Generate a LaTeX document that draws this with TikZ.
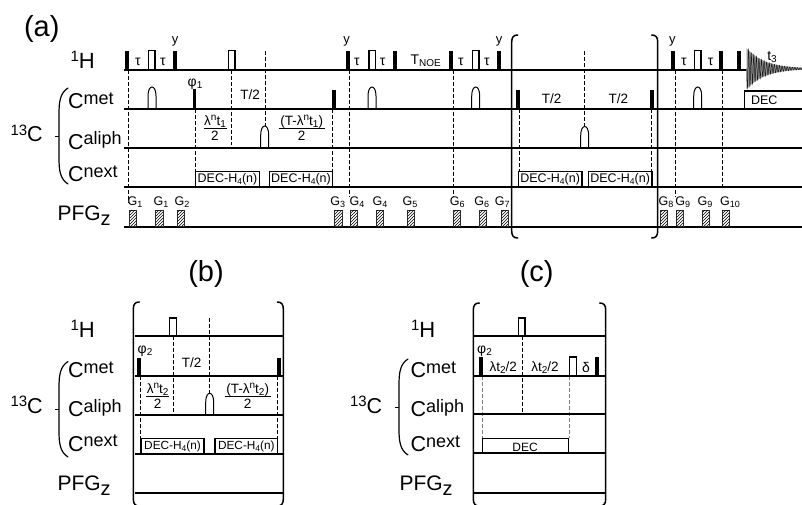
\documentclass[tikz,border=0pt]{standalone}
\usepackage{fontspec}
\setmainfont{Liberation Sans}
\usetikzlibrary{patterns}
\newcount\labn
\newcommand{\fz}[1]{\fontsize{#1}{#1}\selectfont}
\newcommand{\upx}[3]{\raisebox{#1pt}{\fz{#2}#3}}
\newcommand{\lab}[3][base]{\global\advance\labn by 1\node[txt,anchor=#1] (lab\the\labn) at (#2) {#3};}
\newcommand{\bp}[4]{\fill[black] ({#1-.2},#3) rectangle ({#2+.2},#4);}
\newcommand{\opn}[4]{\draw[boxl] (#1,#4) -- (#1,#3) -- (#2,#3) -- (#2,#4);}
\newcommand{\softp}[3]{\draw[softl] ({#1-4},#2) -- ({#1-4},{#3+9}) .. controls ({#1-4},{#3+3}) and ({#1-2},#3) .. (#1,#3) .. controls ({#1+2},#3) and ({#1+4},{#3+3}) .. ({#1+4},{#3+9}) -- ({#1+4},#2);}
\newcommand{\grd}[2]{\draw[gradl] (#1,210) rectangle (#2,226.5);\fill[pattern=north east lines,pattern color=black] (#1,210) rectangle (#2,226.5);}
\newcommand{\glb}[2]{\lab{#1,205}{\fz{12.5}G\upx{-2.5}{9}{#2}}}
\newcommand{\dbox}[5]{\draw[boxl] (#1,#4) -- (#1,#3) -- (#2,#3) -- (#2,#4);\lab[base]{{(#1+#2)/2},{#4-4.5}}{\fz{#5}DEC-H\upx{-2}{8.5}{4}(n)}}
\newcommand{\frc}[5]{\lab{#1,#2}{\fz{13.5}#4}\draw[line width=.9pt] ({#1-#3},{#2+3}) -- ({#1+#3},{#2+3});\lab{#1,{#2+15.5}}{\fz{13.5}#5}}
\newcommand{\lbrk}[3]{\draw[brk] ({#1+6},#2) .. controls ({#1+2},#2) and (#1,{#2+2}) .. (#1,{#2+7}) -- (#1,{#3-7}) .. controls (#1,{#3-2}) and ({#1+2},#3) .. ({#1+6},#3);}
\newcommand{\rbrk}[3]{\draw[brk] ({#1-6},#2) .. controls ({#1-2},#2) and (#1,{#2+2}) .. (#1,{#2+7}) -- (#1,{#3-7}) .. controls (#1,{#3-2}) and ({#1-2},#3) .. ({#1-6},#3);}
\newcommand{\cbrace}[3]{\draw[brk,line width=1.2pt] (#1,#2) .. controls ({#1-8},{#2+5}) and ({#1-9},{#2+14}) .. ({#1-9},{#2+26}) -- ({#1-9},{#3-26}) .. controls ({#1-9},{#3-14}) and ({#1-8},{#3-5}) .. (#1,#3);\draw[line width=1pt] ({#1-13},{(#2+#3)/2}) -- ({#1-9},{(#2+#3)/2});}
\tikzset{
 x=1pt,y=-1pt,
 txt/.style={inner sep=0pt,outer sep=0pt,text=black},
 base line/.style={line width=1.9pt,black},
 boxl/.style={line width=1.1pt,black},
 softl/.style={line width=1pt,black},
 gradl/.style={line width=.6pt,black!80,fill=white},
 dsh/.style={line width=.8pt,dash pattern=on 3.5pt off 2.5pt,black},
 dshg/.style={line width=.8pt,dash pattern=on 3.5pt off 2.5pt,black!50},
 brk/.style={line width=1.5pt,black,line cap=round},
}
\begin{document}
\begin{tikzpicture}
\useasboundingbox (0,0) rectangle (802,504);
% ---- panel (a)
\lab[base west]{24,36}{\fz{29}(a)}
\lab[base west]{70.5,68}{\upx{6.5}{15}{1}\fz{22}H}
\lab[base west]{68,108.5}{\fz{21.5}C\upx{4.5}{18}{met}}
\lab[base west]{68,149}{\fz{21.5}C\upx{4.5}{18}{aliph}}
\lab[base west]{68,181.5}{\fz{21.5}C\upx{4.5}{18}{next}}
\lab[base west]{57.5,220}{\fz{21}PFG\upx{-5}{20}{z}}
\lab[base west]{10.5,141.5}{\upx{6.5}{15}{13}\fz{21.5}C}
\cbrace{68}{88}{184}
% dashed
\draw[dsh] (128,70) -- (128,203);
\draw[dsh] (195.7,109) -- (195.7,172);
\draw[dsh] (231.3,70) -- (231.3,145);
\draw[dsh] (265,51) -- (265,126);
\draw[dsh] (332.3,109) -- (332.3,172);
\draw[dsh] (349.3,70) -- (349.3,197);
\draw[dsh] (453.3,70) -- (453.3,197);
\draw[dsh] (519.3,109) -- (519.3,172);
\draw[dsh] (584.5,51) -- (584.5,126);
\draw[dsh] (651.3,109) -- (651.3,172);
\draw[dsh] (675,70) -- (675,197);
\draw[dsh] (722.7,70) -- (722.7,187);
% baselines
\draw[base line] (124,70) -- (745.5,70);
\draw[base line] (124,109) -- (802,109);
\draw[base line] (124,148) -- (802,148);
\draw[base line] (124,187) -- (802,187);
\draw[base line] (124,227) -- (802,227);
% 1H
\bp{125.5}{128.9}{50.5}{70} \opn{148.5}{155}{50.5}{70} \bp{173.5}{177}{50.5}{70} \opn{228.5}{235}{50.5}{70}
\bp{345.7}{349.3}{50.5}{70} \opn{369}{375.5}{50.5}{70} \bp{393}{397}{50.5}{70} \bp{449.3}{453}{50.5}{70}
\opn{472.5}{479}{50.5}{70} \bp{497}{500.7}{50.5}{70} \bp{671}{675}{50.5}{70} \opn{694.5}{701}{50.5}{70}
\bp{719}{722.7}{50.5}{70} \bp{737}{740.7}{50.5}{70}
\foreach \p in {138,163,357,382.7,461,487,684,710.7} {\lab{\p,65}{\fz{14}τ}}
\lab{175,43}{\fz{13}y} \lab{346.5,43}{\fz{13}y} \lab{499,43}{\fz{13}y} \lab{672.3,43}{\fz{13}y}
\lab{425.7,64}{\fz{14}T\upx{-2.5}{10}{NOE}}
\lab{772,60}{\fz{14}t\upx{-2}{10}{3}}
\fill[black!40] plot[domain=0:56,samples=60] ({746.7+\x},{68.7-20.5*exp(-\x/18)}) -- plot[domain=56:0,samples=60] ({746.7+\x},{68.7+20.5*exp(-\x/18)}) -- cycle;
\draw[line width=.5pt,black!90] plot[domain=0:56,samples=320] ({746.7+\x},{68.7+20.5*exp(-\x/18)*sin(\x*140)});
% Cmet
\softp{152}{108.5}{87} \bp{192.7}{196}{89}{109} \bp{332}{335.7}{89.5}{109} \softp{372}{108.5}{87}
\softp{475.7}{108.5}{87} \bp{516}{519.7}{90}{109} \bp{650}{654}{90}{109} \softp{697.7}{108.5}{87}
\draw[boxl] (744.7,108.5) -- (744.7,91) -- (802,91);
\lab[base west]{751,104.5}{\fz{12.5}DEC}
\lab{195,86}{\fz{14}φ\upx{-2.5}{10}{1}}
\lab{250,99}{\fz{13.5}T/2} \lab{551.7,103}{\fz{13.5}T/2} \lab{618.3,103}{\fz{13.5}T/2}
% Caliph
\softp{264.7}{147.5}{126} \softp{584.7}{147.5}{126.5}
\frc{215}{125}{11.5}{λ\upx{5}{10}{n}t\upx{-2}{10}{1}}{2}
\frc{301.7}{125}{23}{(T-λ\upx{5}{10}{n}t\upx{-2}{10}{1})}{2}
% Cnext
\dbox{195.7}{259.3}{171.7}{187}{12.5}
\dbox{269.3}{332.7}{171.7}{187}{12.5}
\dbox{518.3}{582}{171.7}{187}{12.5}
\dbox{588.3}{652}{171.7}{187}{12.5}
% PFG
\foreach \a/\b in {129.5/136.7,155.7/163,177.3/184.3,334.7/342.3,350.3/357.3,376.3/383.3,407.3/414.3,453.3/460.3,479.7/486.7,501/508,660.7/667.7,676/683,702.3/709.3,722.3/729.3} {\grd{\a}{\b}}
\glb{135}{1} \glb{161}{1} \glb{182}{2} \glb{337.7}{3} \glb{357}{4} \glb{380}{4} \glb{410}{5}
\glb{457.3}{6} \glb{481.7}{6} \glb{502.3}{7} \glb{666}{8} \glb{682.7}{9} \glb{705}{9} \glb{730}{10}
\lbrk{511.7}{35}{238}
\rbrk{657.7}{35}{238}
% ---- panel (b)
\lab{206,281}{\fz{29}(b)}
\lab[base west]{70.5,337.3}{\upx{6.5}{15}{1}\fz{22}H}
\lab[base west]{68,377.5}{\fz{21.5}C\upx{4.5}{18}{met}}
\lab[base west]{68,416.5}{\fz{21.5}C\upx{4.5}{18}{aliph}}
\lab[base west]{68,451}{\fz{21.5}C\upx{4.5}{18}{next}}
\lab[base west]{57.5,490.7}{\fz{21}PFG\upx{-5}{20}{z}}
\lab[base west]{10.5,413}{\upx{6.5}{15}{13}\fz{21.5}C}
\cbrace{68}{361.5}{457}
\draw[dsh] (173.3,336) -- (173.3,412);
\draw[dsh] (209.7,318) -- (209.7,393);
\draw[dsh] (140.3,376) -- (140.3,438);
\draw[dsh] (277.7,376) -- (277.7,438);
\foreach \y in {336,376,415.3,454.3,493.3} {\draw[base line] (135,\y) -- (283,\y);}
\opn{169.5}{176.5}{318}{336}
\bp{137.3}{141}{358}{376} \bp{277.3}{281}{358}{376}
\softp{209.7}{415}{393.3}
\dbox{141}{204}{438.3}{454}{11.8}
\dbox{215}{277.7}{438.3}{454}{11.8}
\lab{145,353}{\fz{14}φ\upx{-2.5}{10}{2}}
\lab{191.7,367.5}{\fz{13.5}T/2}
\frc{157.7}{393}{11.5}{λ\upx{5}{10}{n}t\upx{-2}{10}{2}}{2}
\frc{247.7}{393}{23}{(T-λ\upx{5}{10}{n}t\upx{-2}{10}{2})}{2}
\lbrk{133.3}{302}{506}
\rbrk{283.3}{302}{506}
% ---- panel (c)
\lab{536.7,281}{\fz{29}(c)}
\lab[base west]{411,337.3}{\upx{6.5}{15}{1}\fz{22}H}
\lab[base west]{410.5,377.5}{\fz{21.5}C\upx{4.5}{18}{met}}
\lab[base west]{410.5,416.5}{\fz{21.5}C\upx{4.5}{18}{aliph}}
\lab[base west]{410.5,451.5}{\fz{21.5}C\upx{4.5}{18}{next}}
\lab[base west]{399.5,490.7}{\fz{21}PFG\upx{-5}{20}{z}}
\lab[base west]{350,413}{\upx{6.5}{15}{13}\fz{21.5}C}
\cbrace{408}{359}{455}
\draw[dsh] (522.3,336) -- (522.3,414);
\draw[dshg] (482.3,376) -- (482.3,438);
\draw[dshg] (569,376) -- (569,438);
\foreach \y in {335.7,375.7,414.3,453.3,493.3} {\draw[base line] (474,\y) -- (605.5,\y);}
\opn{518.5}{525}{318}{335.7}
\bp{479}{482.7}{357}{375.7} \opn{569.5}{576.5}{357}{375.7} \bp{595.3}{599}{357}{375.7}
\draw[boxl] (482.7,453) -- (482.7,438.3) -- (568.7,438.3) -- (568.7,453);
\lab{525,451.5}{\fz{12}DEC}
\lab{484.5,353}{\fz{14}φ\upx{-2.5}{10}{2}}
\lab{503.3,371.5}{\fz{13.5}λt\upx{-2}{10}{2}/2}
\lab{545,371.5}{\fz{13.5}λt\upx{-2}{10}{2}/2}
\lab{586,372}{\fz{14}δ}
\lbrk{473.3}{303}{506}
\rbrk{605.7}{303}{506}
\end{tikzpicture}
\end{document}
